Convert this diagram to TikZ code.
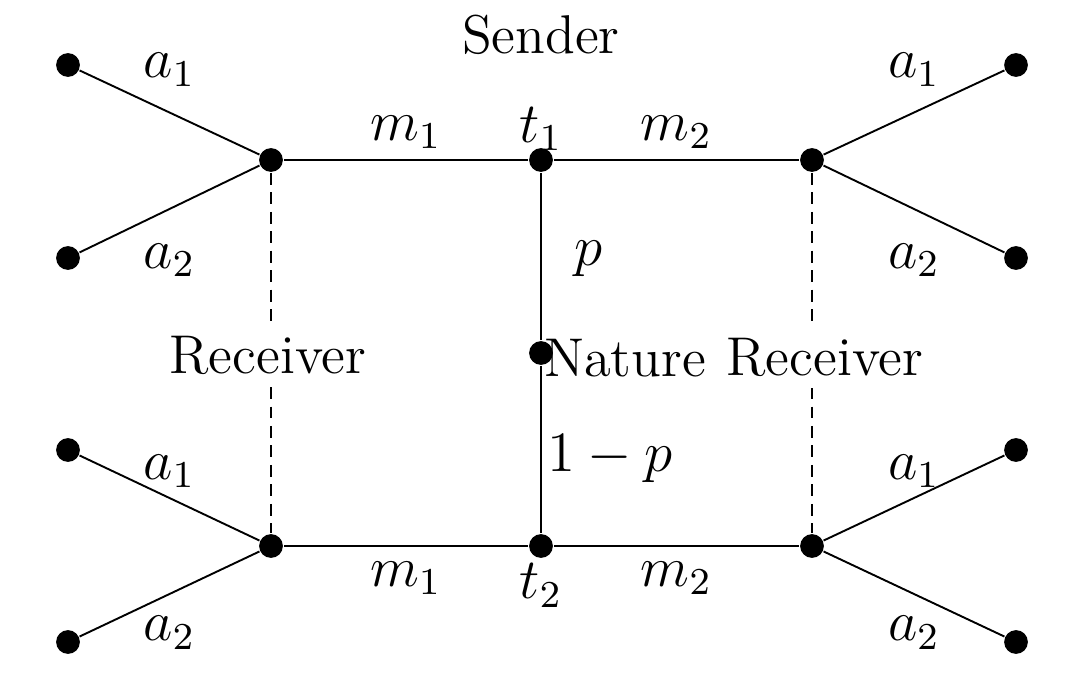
\documentclass[tikz,border=0pt,11pt]{standalone}
\usepackage{amsmath, amssymb}
\usepackage{tikz}

\begin{document}
\begin{tikzpicture}[x=0.74cm, y=0.74cm,
    every node/.style={font=\fontsize{11.5}{14}\selectfont},
    dot/.style={circle, fill, inner sep=0pt, minimum size=5pt},
    infoset/.style={dash pattern=on 2.5pt off 1.6pt},
    playername/.style={fill=white, inner xsep=0.5pt, inner ysep=2.5pt}]
    \useasboundingbox (-5.41,-3.29) rectangle (5.49,3.53);

    % Nature and types
    \node[dot] (N) at (0,0) {};
    \node[dot] (t1) at (0,1.93) {};
    \node[dot] (t2) at (0,-1.93) {};

    % Receiver nodes
    \node[dot] (rl1) at (-2.70,1.93) {};
    \node[dot] (rl2) at (-2.70,-1.93) {};
    \node[dot] (rr1) at (2.71,1.93) {};
    \node[dot] (rr2) at (2.71,-1.93) {};

    % End nodes
    \node[dot] (el1) at (-4.73,2.88) {};
    \node[dot] (el2) at (-4.73,0.95) {};
    \node[dot] (el3) at (-4.73,-0.97) {};
    \node[dot] (el4) at (-4.73,-2.89) {};
    \node[dot] (er1) at (4.75,2.88) {};
    \node[dot] (er2) at (4.75,0.95) {};
    \node[dot] (er3) at (4.75,-0.97) {};
    \node[dot] (er4) at (4.75,-2.89) {};

    % Moves of nature
    \draw (N) -- (t1);
    \draw (N) -- (t2);

    % Messages
    \draw (t1) -- node[yshift=5.8pt] (m11) {$m_1$} (rl1);
    \draw (t1) -- node[yshift=5.8pt] (m21) {$m_2$} (rr1);
    \draw (t2) -- node[yshift=-6.8pt] (m12) {$m_1$} (rl2);
    \draw (t2) -- node[yshift=-6.8pt] (m22) {$m_2$} (rr2);

    % Actions
    \draw (rl1) -- node[yshift=9pt] (al1) {$a_1$} (el1);
    \draw (rl1) -- node[yshift=-10.8pt] (al2) {$a_2$} (el2);
    \draw (rl2) -- node[yshift=5.6pt] (al3) {$a_1$} (el3);
    \draw (rl2) -- node[yshift=-8.2pt] (al4) {$a_2$} (el4);
    \draw (rr1) -- node[yshift=9pt] (ar1) {$a_1$} (er1);
    \draw (rr1) -- node[yshift=-10.8pt] (ar2) {$a_2$} (er2);
    \draw (rr2) -- node[yshift=5.6pt] (ar3) {$a_1$} (er3);
    \draw (rr2) -- node[yshift=-8.2pt] (ar4) {$a_2$} (er4);

    % Information sets
    \draw[infoset] (rl1) -- (rl2);
    \draw[infoset] (rr1) -- (rr2);

    % Labels
    \node (sender) at (0,3.18) {Sender};
    \node (lt1) at (0,2.24) {$t_1$};
    \node (lt2) at (0,-2.325) {$t_2$};
    \node (prob1) at (0.47,0.945) {$p$};
    \node (prob2) at (0.69,-1.06) {$1-p$};
    \node (nature) at (0.84,-0.05) {Nature};
    \node[playername] (recl) at (-2.73,-0.02) {Receiver};
    \node[playername] (recr) at (2.84,-0.04) {Receiver};
\end{tikzpicture}
\end{document}
